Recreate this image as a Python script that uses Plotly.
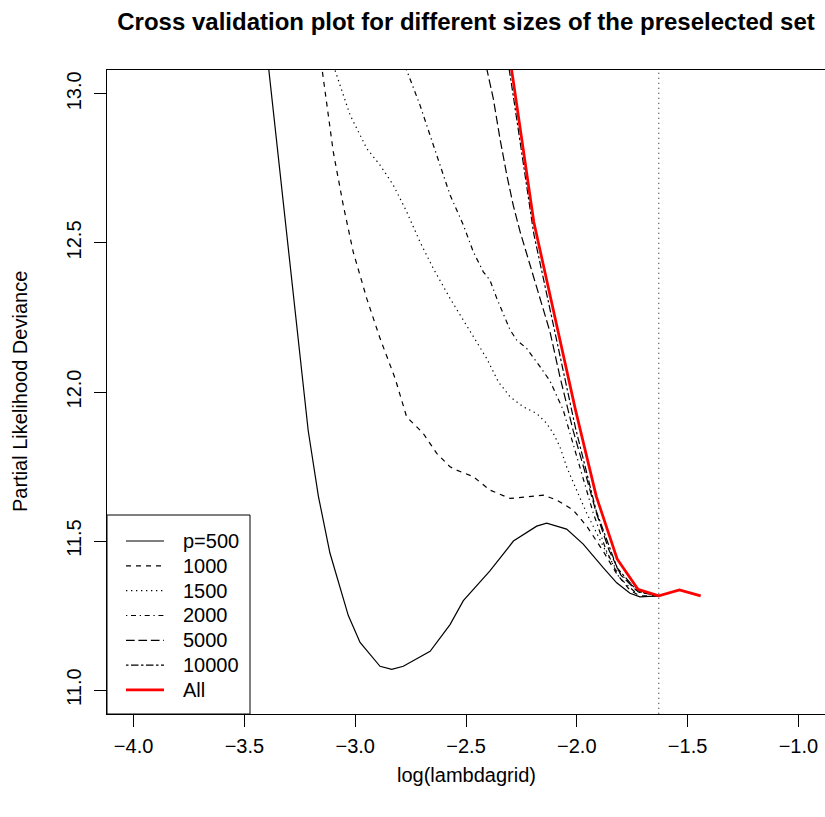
import plotly.graph_objects as go

TITLE = "Cross validation plot for different sizes of the preselected set"
X_TITLE = "log(lambdagrid)"
Y_TITLE = "Partial Likelihood Deviance"

X_TICKS = [-4.0, -3.5, -3.0, -2.5, -2.0, -1.5, -1.0]
Y_TICKS = [11.0, 11.5, 12.0, 12.5, 13.0]
X_RANGE = [-4.12, -0.88]
Y_RANGE = [10.92, 13.08]

LAMBDA_MIN = -1.63

LABELS = ["p=500", "1000", "1500", "2000", "5000", "10000", "All"]

p500_x = [-3.40, -3.303, -3.234, -3.212, -3.166, -3.114, -3.031, -2.978, -2.888, -2.835,
          -2.783, -2.662, -2.572, -2.512, -2.392, -2.286, -2.181, -2.136, -2.046, -1.971,
          -1.880, -1.820, -1.760, -1.715, -1.630]
p500_y = [13.15, 12.50, 12.04, 11.87, 11.65, 11.46, 11.25, 11.16, 11.08, 11.07,
          11.08, 11.13, 11.22, 11.30, 11.40, 11.50, 11.55, 11.56, 11.54, 11.49,
          11.41, 11.36, 11.325, 11.313, 11.316]

p1000_x = [-3.16, -3.147, -3.099, -3.054, -3.009, -2.948, -2.888, -2.820, -2.768, -2.693,
           -2.632, -2.572, -2.542, -2.467, -2.392, -2.301, -2.226, -2.151, -2.091, -2.016,
           -1.955, -1.880, -1.820, -1.760, -1.715, -1.630]
p1000_y = [13.14, 13.069, 12.806, 12.627, 12.470, 12.314, 12.180, 12.046, 11.917, 11.861,
           11.794, 11.749, 11.738, 11.716, 11.671, 11.643, 11.649, 11.654, 11.638, 11.604,
           11.55, 11.465, 11.39, 11.335, 11.316, 11.316]

p1500_x = [-3.105, -3.083, -3.023, -2.948, -2.888, -2.828, -2.768, -2.708, -2.648, -2.572,
           -2.482, -2.407, -2.354, -2.301, -2.241, -2.181, -2.136, -2.106, -2.076, -2.046,
           -2.001, -1.955, -1.910, -1.865, -1.820, -1.760, -1.692, -1.630]
p1500_y = [13.11, 13.063, 12.929, 12.817, 12.761, 12.694, 12.605, 12.504, 12.415, 12.314,
           12.202, 12.113, 12.034, 11.984, 11.950, 11.928, 11.895, 11.861, 11.816, 11.749,
           11.671, 11.593, 11.526, 11.459, 11.403, 11.358, 11.325, 11.316]

p2000_x = [-2.785, -2.765, -2.708, -2.662, -2.617, -2.572, -2.512, -2.467, -2.422, -2.392,
           -2.361, -2.332, -2.301, -2.271, -2.226, -2.166, -2.121, -2.061, -2.022, -1.977,
           -1.927, -1.868, -1.810, -1.742, -1.630]
p2000_y = [13.11, 13.074, 12.963, 12.862, 12.761, 12.661, 12.560, 12.470, 12.403, 12.375,
           12.314, 12.264, 12.208, 12.174, 12.146, 12.085, 12.037, 11.939, 11.839, 11.731,
           11.597, 11.470, 11.379, 11.332, 11.316]

p5000_x = [-2.42, -2.404, -2.377, -2.347, -2.316, -2.287, -2.256, -2.211, -2.166, -2.121,
           -2.076, -2.017, -1.963, -1.913, -1.855, -1.801, -1.733, -1.630]
p5000_y = [13.13, 13.074, 12.985, 12.851, 12.728, 12.627, 12.538, 12.426, 12.314, 12.202,
           12.051, 11.872, 11.731, 11.597, 11.470, 11.386, 11.336, 11.316]

p10000_x = [-2.382, -2.288, -2.194, -2.100, -2.006, -1.912, -1.818, -1.724, -1.630]
p10000_y = [13.45, 13.00, 12.53, 12.20, 11.88, 11.60, 11.41, 11.33, 11.316]

all_x = [-2.382, -2.288, -2.194, -2.100, -2.006, -1.912, -1.818, -1.724, -1.630, -1.537, -1.441]
all_y = [13.50, 13.05, 12.57, 12.26, 11.94, 11.65, 11.44, 11.338, 11.316, 11.336, 11.316]

SERIES_X = [p500_x, p1000_x, p1500_x, p2000_x, p5000_x, p10000_x, all_x]
SERIES_Y = [p500_y, p1000_y, p1500_y, p2000_y, p5000_y, p10000_y, all_y]
COLORS = ["black", "black", "black", "black", "black", "black", "#ff0000"]
WIDTHS = [1.2, 1.2, 1.2, 1.2, 1.2, 1.2, 2.75]
DASHES = ["solid", "5px,5px", "1.3px,3.7px", "1.3px,3.7px,5px,3.7px", "8.7px,3.7px",
          "2.5px,2.5px,7.5px,2.5px", "solid"]

FONT = "Liberation Sans, Arial, sans-serif"
FS = 20

# pixel geometry of the plot area (for placing legend decorations)
L, R, T, B = 107, 825, 70, 714
W, H = R - L, B - T


def px_x(p):
    return (p - L) / W


def px_y(p):
    return (B - p) / H


fig = go.Figure()
for lab, xs, ys, c, w, d in zip(LABELS, SERIES_X, SERIES_Y, COLORS, WIDTHS, DASHES):
    fig.add_trace(go.Scatter(x=xs, y=ys, mode="lines", name=lab, showlegend=False,
                             line=dict(color=c, width=w, dash=d)))

# vertical dotted line at the selected lambda
fig.add_shape(type="line", xref="x", yref="paper", x0=LAMBDA_MIN, x1=LAMBDA_MIN,
              y0=0, y1=1, line=dict(color="#444444", width=1, dash="1.3px,3.7px"),
              layer="above")

# R-style legend (box, line samples, labels)
fig.add_shape(type="rect", xref="paper", yref="paper", x0=0, x1=px_x(250),
              y0=0, y1=px_y(515), line=dict(color="black", width=1),
              fillcolor="rgba(0,0,0,0)", layer="above")
ROW0, ROWSTEP = 541, 24.83
for i, (lab, c, w, d) in enumerate(zip(LABELS, COLORS, WIDTHS, DASHES)):
    yy = px_y(ROW0 + ROWSTEP * i)
    fig.add_shape(type="line", xref="paper", yref="paper", x0=px_x(126), x1=px_x(164),
                  y0=yy, y1=yy, line=dict(color=c, width=w, dash=d), layer="above")
    fig.add_annotation(text=lab, xref="paper", yref="paper", x=px_x(181), y=yy,
                       xanchor="left", yanchor="middle", showarrow=False,
                       font=dict(family=FONT, size=FS, color="black"))

axis_common = dict(showgrid=False, zeroline=False, showline=True, mirror=True,
                   linecolor="black", linewidth=1, ticks="outside", ticklen=12,
                   tickcolor="black", tickwidth=1,
                   tickfont=dict(family=FONT, size=FS, color="black"))

fig.update_xaxes(range=X_RANGE, tickvals=X_TICKS, tickformat=".1f",
                 ticklabelstandoff=2, **axis_common)
fig.update_yaxes(range=Y_RANGE, tickvals=Y_TICKS, tickformat=".1f", tickangle=-90,
                 ticklabelstandoff=5, **axis_common)

fig.add_annotation(text=X_TITLE, xref="paper", yref="paper", x=0.5, y=px_y(775),
                   xanchor="center", yanchor="middle", showarrow=False,
                   font=dict(family=FONT, size=FS, color="black"))
fig.add_annotation(text=Y_TITLE, xref="paper", yref="paper", x=px_x(20), y=0.5,
                   xanchor="center", yanchor="middle", showarrow=False, textangle=-90,
                   font=dict(family=FONT, size=FS, color="black"))

fig.update_layout(
    width=825, height=817,
    margin=dict(l=L, r=825 - R, t=T, b=817 - B, autoexpand=False),
    paper_bgcolor="white", plot_bgcolor="white",
    title=dict(text=TITLE, x=0.5, xref="paper", xanchor="center",
               y=1 - 22 / 817, yref="container", yanchor="middle",
               font=dict(family=FONT, size=24, color="black", weight="bold")),
    showlegend=False,
)

fig.write_html("out.html")
